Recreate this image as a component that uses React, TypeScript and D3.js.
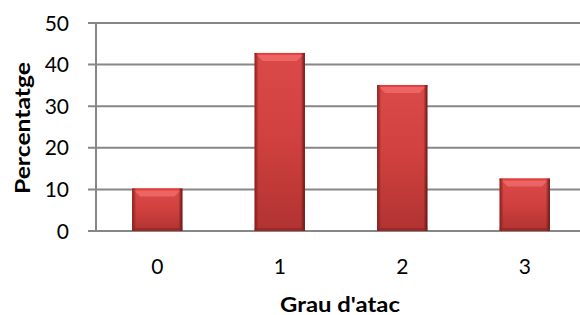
import React from 'react';
import * as d3 from 'd3';

// grau d'atac categories and percentages
const categories = ['0', '1', '2', '3'];
const percents = [10.2, 42.8, 35.1, 12.6];
const yTicks = [0, 10, 20, 30, 40, 50];

const width = 580;
const height = 315;
const font = "Lato, 'Open Sans', 'Liberation Sans', sans-serif";

export default function App() {
    const x = d3.scaleBand<string>()
        .domain(categories)
        .range([96, 586])
        .paddingInner(0.59)
        .paddingOuter(0.295);

    const y = d3.scaleLinear()
        .domain([0, 50])
        .range([231, 23]);

    const bw = x.bandwidth();

    return (
        <svg width={width} height={height} style={{ position: 'absolute', left: 0, top: 0 }}>
            <defs>
                <linearGradient id="barFill" x1="0" y1="0" x2="0" y2="1">
                    <stop offset="0" stopColor="#d94a48" />
                    <stop offset="0.5" stopColor="#cf403e" />
                    <stop offset="1" stopColor="#b03331" />
                </linearGradient>
                <linearGradient id="sideL" x1="0" y1="0" x2="1" y2="0">
                    <stop offset="0" stopColor="#7a1c1b" stopOpacity="0.9" />
                    <stop offset="1" stopColor="#7a1c1b" stopOpacity="0" />
                </linearGradient>
                <linearGradient id="sideR" x1="1" y1="0" x2="0" y2="0">
                    <stop offset="0" stopColor="#5e1514" stopOpacity="0.95" />
                    <stop offset="1" stopColor="#5e1514" stopOpacity="0" />
                </linearGradient>
            </defs>

            {/* gridlines + tick marks */}
            {yTicks.map(t => (
                <line key={'g' + t} x1={88} x2={width} y1={y(t)} y2={y(t)}
                    stroke="#878787" strokeWidth={2} />
            ))}
            <line x1={96} x2={96} y1={y(50)} y2={y(0)} stroke="#878787" strokeWidth={2} />

            {/* y tick labels */}
            {yTicks.map(t => (
                <text key={'l' + t} x={69} y={y(t)} dy="0.36em" textAnchor="end"
                    fontFamily={font} fontSize={21} fill="#000">{t}</text>
            ))}

            {/* bars */}
            {percents.map((v, i) => {
                const bx = x(categories[i]) as number;
                const by = y(v);
                const bh = y(0) - by;
                const bev = Math.min(8, bh / 3);
                return (
                    <g key={'b' + i}>
                        <rect x={bx} y={by} width={bw} height={bh} fill="url(#barFill)" />
                        <polygon
                            points={`${bx},${by} ${bx + bw},${by} ${bx + bw - bev},${by + bev} ${bx + bev},${by + bev}`}
                            fill="#f06a68" opacity={0.85} />
                        <rect x={bx} y={by} width={bw} height={2} fill="#e0413f" />
                        <rect x={bx} y={by} width={4} height={bh} fill="url(#sideL)" />
                        <rect x={bx + bw - 4} y={by} width={4} height={bh} fill="url(#sideR)" />
                        <rect x={bx} y={y(0) - 3} width={bw} height={3} fill="#8a2422" opacity={0.6} />
                    </g>
                );
            })}

            {/* x tick labels */}
            {categories.map(c => (
                <text key={'x' + c} x={(x(c) as number) + bw / 2} y={274}
                    textAnchor="middle" fontFamily={font} fontSize={21} fill="#000">{c}</text>
            ))}

            <text x={340} y={312} textAnchor="middle" fontFamily={font}
                fontSize={20} fontWeight="bold" fill="#000"
                textLength={120} lengthAdjust="spacingAndGlyphs">Grau d'atac</text>
            <text transform="translate(30,128) rotate(-90)" textAnchor="middle"
                fontFamily={font} fontSize={20} fontWeight="bold" fill="#000"
                textLength={132} lengthAdjust="spacingAndGlyphs">Percentatge</text>
        </svg>
    );
}
